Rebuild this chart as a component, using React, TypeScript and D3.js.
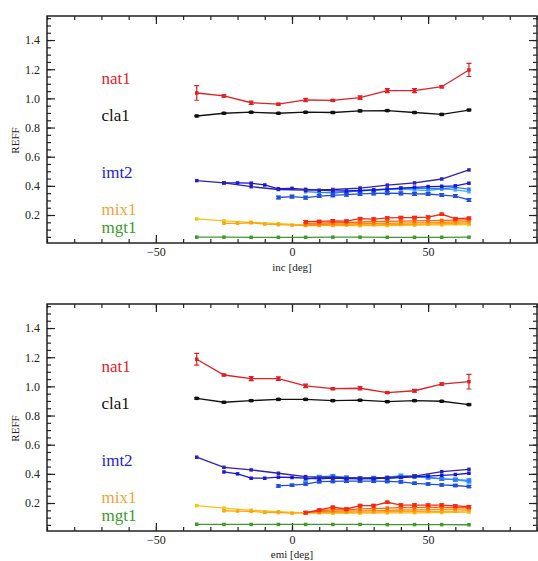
import React, { useEffect, useRef } from "react";
import * as d3 from "d3";

// x positions of the sample groups (deg)
const xA = [-35, -25, -15, -5, 5, 15, 25, 35, 45, 55, 65];
const xB = [-25, -20, -15, -10, -5, 0, 5, 10, 15, 20, 25, 30, 35, 40, 45, 50, 55, 60, 65];
const xC = [-5, 0, 5, 10, 15, 20, 25, 30, 35, 40, 45, 50, 55, 60, 65];
const xD = [5, 10, 15, 20, 25, 30, 35, 40, 45, 50, 55, 60, 65];
const xE = [15, 20, 25, 30, 35, 40, 45, 50, 55, 60, 65];

// ---- incidence panel ----
const incNat1 = [1.037, 1.017, 0.97, 0.96, 0.989, 0.986, 1.005, 1.053, 1.053, 1.08, 1.195];
const incNat1Err = [0.05, 0.008, 0.012, 0.006, 0.012, 0.006, 0.012, 0.014, 0.014, 0.008, 0.045];
const incCla1 = [0.879, 0.898, 0.905, 0.898, 0.905, 0.903, 0.914, 0.916, 0.903, 0.89, 0.92];
const incImtA = [0.436, 0.42, 0.394, 0.375, 0.37, 0.375, 0.385, 0.405, 0.42, 0.447, 0.509];
const incImtB = [0.42, 0.42, 0.418, 0.406, 0.38, 0.383, 0.376, 0.37, 0.365, 0.365, 0.368, 0.372, 0.378, 0.385, 0.39, 0.395, 0.397, 0.4, 0.418];
const incImtC = [0.32, 0.326, 0.319, 0.33, 0.335, 0.34, 0.345, 0.348, 0.35, 0.348, 0.345, 0.344, 0.337, 0.33, 0.303];
const incImtD = [0.36, 0.355, 0.352, 0.358, 0.365, 0.372, 0.378, 0.382, 0.385, 0.382, 0.38, 0.39, 0.377];
const incImtE = [0.35, 0.358, 0.365, 0.37, 0.375, 0.378, 0.372, 0.368, 0.38, 0.372, 0.36];
const incMixA = [0.173, 0.16, 0.15, 0.14, 0.132, 0.128, 0.127, 0.128, 0.13, 0.132, 0.135];
const incMixB = [0.143, 0.143, 0.147, 0.138, 0.134, 0.13, 0.128, 0.128, 0.13, 0.131, 0.132, 0.133, 0.134, 0.135, 0.136, 0.138, 0.14, 0.142, 0.145];
const incMixC = [0.133, 0.135, 0.137, 0.138, 0.14, 0.142, 0.143, 0.145, 0.146, 0.148, 0.15, 0.152, 0.155];
const incMixD = [0.142, 0.145, 0.147, 0.148, 0.152, 0.155, 0.157, 0.158, 0.16, 0.162, 0.163, 0.165, 0.168];
const incMixE = [0.154, 0.156, 0.16, 0.158, 0.175, 0.172, 0.18, 0.182, 0.182, 0.186, 0.205, 0.175, 0.178];
const incMgt1 = [0.048, 0.048, 0.047, 0.047, 0.047, 0.048, 0.048, 0.047, 0.047, 0.047, 0.048];

// ---- emission panel ----
const emiNat1 = [1.186, 1.078, 1.053, 1.053, 1.003, 0.984, 0.987, 0.957, 0.97, 1.016, 1.032];
const emiNat1Err = [0.04, 0.006, 0.014, 0.012, 0.012, 0.006, 0.012, 0.006, 0.01, 0.008, 0.05];
const emiCla1 = [0.918, 0.891, 0.902, 0.911, 0.911, 0.902, 0.905, 0.895, 0.902, 0.898, 0.875];
const emiImtA = [0.514, 0.445, 0.427, 0.404, 0.381, 0.375, 0.37, 0.375, 0.385, 0.415, 0.431];
const emiImtB = [0.413, 0.4, 0.37, 0.37, 0.377, 0.375, 0.37, 0.365, 0.37, 0.368, 0.365, 0.368, 0.37, 0.375, 0.38, 0.385, 0.39, 0.395, 0.404];
const emiImtC = [0.317, 0.322, 0.33, 0.346, 0.348, 0.35, 0.35, 0.35, 0.348, 0.345, 0.335, 0.33, 0.324, 0.32, 0.313];
const emiImtD = [0.36, 0.38, 0.385, 0.375, 0.37, 0.372, 0.368, 0.38, 0.385, 0.375, 0.365, 0.36, 0.355];
const emiImtE = [0.38, 0.375, 0.37, 0.365, 0.375, 0.39, 0.38, 0.375, 0.365, 0.36, 0.345];
const emiMixA = [0.182, 0.165, 0.15, 0.14, 0.132, 0.13, 0.13, 0.132, 0.133, 0.135, 0.137];
const emiMixB = [0.147, 0.145, 0.143, 0.136, 0.135, 0.13, 0.132, 0.133, 0.135, 0.136, 0.137, 0.138, 0.14, 0.141, 0.142, 0.143, 0.142, 0.145, 0.148];
const emiMixC = [0.134, 0.14, 0.142, 0.144, 0.146, 0.148, 0.15, 0.152, 0.153, 0.155, 0.157, 0.158, 0.16];
const emiMixD = [0.134, 0.145, 0.155, 0.152, 0.16, 0.162, 0.165, 0.168, 0.168, 0.17, 0.17, 0.17, 0.168];
const emiMixE = [0.134, 0.152, 0.171, 0.159, 0.182, 0.182, 0.205, 0.186, 0.186, 0.186, 0.186, 0.18, 0.175];
const emiMgt1 = [0.054, 0.053, 0.053, 0.053, 0.053, 0.053, 0.053, 0.052, 0.052, 0.052, 0.051];

// group labels
const labelNames = ["nat1", "cla1", "imt2", "mix1", "mgt1"];
const labelY = [1.099, 0.848, 0.454, 0.2, 0.077];
const labelColors = ["#e3222b", "#111111", "#2626c4", "#f0a23a", "#3f9a2c"];

const xTicks = [-50, 0, 50];
const yTicks = [0.2, 0.4, 0.6, 0.8, 1.0, 1.2, 1.4];

const C = {
  red: "#e11f26",
  black: "#111111",
  navy: "#2b22b0",
  blue: "#1616e0",
  blue2: "#1f4fdc",
  blue3: "#2b7df2",
  blue4: "#47a8ff",
  yellow: "#f6c40e",
  orange1: "#fca514",
  orange2: "#ff8a08",
  orange3: "#ff6306",
  orange4: "#ef2b14",
  green: "#3e9a2a",
};

type Series = { x: number[]; y: number[]; err?: number[]; color: string };

const incSeries: Series[] = [
  { x: xA, y: incMgt1, color: C.green },
  { x: xA, y: incMixA, color: C.yellow },
  { x: xB, y: incMixB, color: C.orange1 },
  { x: xD, y: incMixC, color: C.orange2 },
  { x: xD, y: incMixD, color: C.orange3 },
  { x: xD, y: incMixE, err: incMixE.map(() => 0.008), color: C.orange4 },
  { x: xE, y: incImtE, color: C.blue4 },
  { x: xD, y: incImtD, color: C.blue3 },
  { x: xC, y: incImtC, err: incImtC.map(() => 0.01), color: C.blue2 },
  { x: xB, y: incImtB, color: C.blue },
  { x: xA, y: incImtA, color: C.navy },
  { x: xA, y: incCla1, err: incCla1.map(() => 0.005), color: C.black },
  { x: xA, y: incNat1, err: incNat1Err, color: C.red },
];

const emiSeries: Series[] = [
  { x: xA, y: emiMgt1, color: C.green },
  { x: xA, y: emiMixA, color: C.yellow },
  { x: xB, y: emiMixB, color: C.orange1 },
  { x: xD, y: emiMixC, color: C.orange2 },
  { x: xD, y: emiMixD, color: C.orange3 },
  { x: xD, y: emiMixE, err: emiMixE.map(() => 0.008), color: C.orange4 },
  { x: xE, y: emiImtE, err: emiImtE.map(() => 0.008), color: C.blue4 },
  { x: xD, y: emiImtD, err: emiImtD.map(() => 0.01), color: C.blue3 },
  { x: xC, y: emiImtC, err: emiImtC.map(() => 0.008), color: C.blue2 },
  { x: xB, y: emiImtB, color: C.blue },
  { x: xA, y: emiImtA, color: C.navy },
  { x: xA, y: emiCla1, err: emiCla1.map(() => 0.005), color: C.black },
  { x: xA, y: emiNat1, err: emiNat1Err, color: C.red },
];

const FONT = "Liberation Serif, DejaVu Serif, Times New Roman, serif";

export default function App() {
  const svgRef = useRef<SVGSVGElement>(null);

  useEffect(() => {
    const svg = d3.select(svgRef.current);
    svg.selectAll("*").remove();

    const left = 47;
    const right = 537;
    const panels = [
      { top: 16, bottom: 243, series: incSeries, title: "inc [deg]", titleY: 271 },
      { top: 304, bottom: 531, series: emiSeries, title: "emi [deg]", titleY: 558 },
    ];

    panels.forEach((p) => {
      const g = svg.append("g");
      const x = d3.scaleLinear().domain([-90, 90]).range([left, right]);
      const y = d3.scaleLinear().domain([0.008, 1.565]).range([p.bottom, p.top]);

      // axes: ticks pointing inward
      const axisColor = "#222";
      g.append("g")
        .attr("transform", `translate(0,${p.bottom})`)
        .call(d3.axisBottom(x).tickValues(xTicks).tickSizeInner(-8).tickSizeOuter(0).tickPadding(4).tickFormat(d3.format("d")));
      g.append("g")
        .attr("transform", `translate(0,${p.bottom})`)
        .call(d3.axisBottom(x).ticks(18).tickSizeInner(-4).tickSizeOuter(0).tickFormat(() => ""));
      g.append("g")
        .attr("transform", `translate(0,${p.top})`)
        .call(d3.axisTop(x).tickValues(xTicks).tickSizeInner(-8).tickSizeOuter(0).tickFormat(() => ""));
      g.append("g")
        .attr("transform", `translate(0,${p.top})`)
        .call(d3.axisTop(x).ticks(18).tickSizeInner(-4).tickSizeOuter(0).tickFormat(() => ""));

      g.append("g")
        .attr("transform", `translate(${left},0)`)
        .call(d3.axisLeft(y).tickValues(yTicks).tickSizeInner(-8).tickSizeOuter(0).tickPadding(7).tickFormat(d3.format(".1f")));
      g.append("g")
        .attr("transform", `translate(${left},0)`)
        .call(d3.axisLeft(y).ticks(30).tickSizeInner(-4).tickSizeOuter(0).tickFormat(() => ""));
      g.append("g")
        .attr("transform", `translate(${right},0)`)
        .call(d3.axisRight(y).tickValues(yTicks).tickSizeInner(-8).tickSizeOuter(0).tickFormat(() => ""));
      g.append("g")
        .attr("transform", `translate(${right},0)`)
        .call(d3.axisRight(y).ticks(30).tickSizeInner(-4).tickSizeOuter(0).tickFormat(() => ""));

      g.selectAll(".domain").remove();
      g.selectAll("g").attr("font-family", FONT).attr("font-size", 12);
      g.selectAll(".tick line").attr("stroke", axisColor).attr("stroke-width", 1.2);
      g.selectAll(".tick text").attr("fill", "#222");

      g.append("rect")
        .attr("x", left)
        .attr("y", p.top)
        .attr("width", right - left)
        .attr("height", p.bottom - p.top)
        .attr("fill", "none")
        .attr("stroke", axisColor)
        .attr("stroke-width", 1.5);

      // axis titles
      g.append("text")
        .attr("x", x(0))
        .attr("y", p.titleY)
        .attr("text-anchor", "middle")
        .attr("fill", "#222")
        .attr("font-family", FONT)
        .attr("font-size", 11)
        .text(p.title);
      g.append("text")
        .attr("transform", `translate(19,${(p.top + p.bottom) / 2 + 11}) rotate(-90)`)
        .attr("text-anchor", "middle")
        .attr("fill", "#222")
        .attr("font-family", FONT)
        .attr("font-size", 11)
        .text("REFF");

      // data
      const line = d3
        .line<[number, number]>()
        .x((d) => x(d[0]))
        .y((d) => y(d[1]));

      p.series.forEach((s) => {
        const pts = s.x.map((v, i) => [v, s.y[i]] as [number, number]);
        const sg = g.append("g");
        sg.append("path")
          .attr("d", line(pts))
          .attr("fill", "none")
          .attr("stroke", s.color)
          .attr("stroke-width", 1.3);
        if (s.err) {
          pts.forEach((d, i) => {
            const e = s.err![i];
            const cx = x(d[0]);
            const y1 = y(d[1] - e);
            const y2 = y(d[1] + e);
            sg.append("path")
              .attr("d", `M${cx},${y1}V${y2}M${cx - 2.5},${y1}h5M${cx - 2.5},${y2}h5`)
              .attr("stroke", s.color)
              .attr("stroke-width", 1.2)
              .attr("fill", "none");
          });
        }
        sg.selectAll("rect")
          .data(pts)
          .join("rect")
          .attr("x", (d) => x(d[0]) - 1.75)
          .attr("y", (d) => y(d[1]) - 1.75)
          .attr("width", 3.5)
          .attr("height", 3.5)
          .attr("fill", s.color);
      });

      // group labels
      labelNames.forEach((name, i) => {
        g.append("text")
          .attr("x", x(-70))
          .attr("y", y(labelY[i]))
          .attr("fill", labelColors[i])
          .attr("font-family", FONT)
          .attr("font-size", 17)
          .text(name);
      });
    });
  }, []);

  return (
    <svg
      ref={svgRef}
      width={538}
      height={561}
      style={{ position: "absolute", left: 0, top: 0, background: "#fff" }}
    />
  );
}
